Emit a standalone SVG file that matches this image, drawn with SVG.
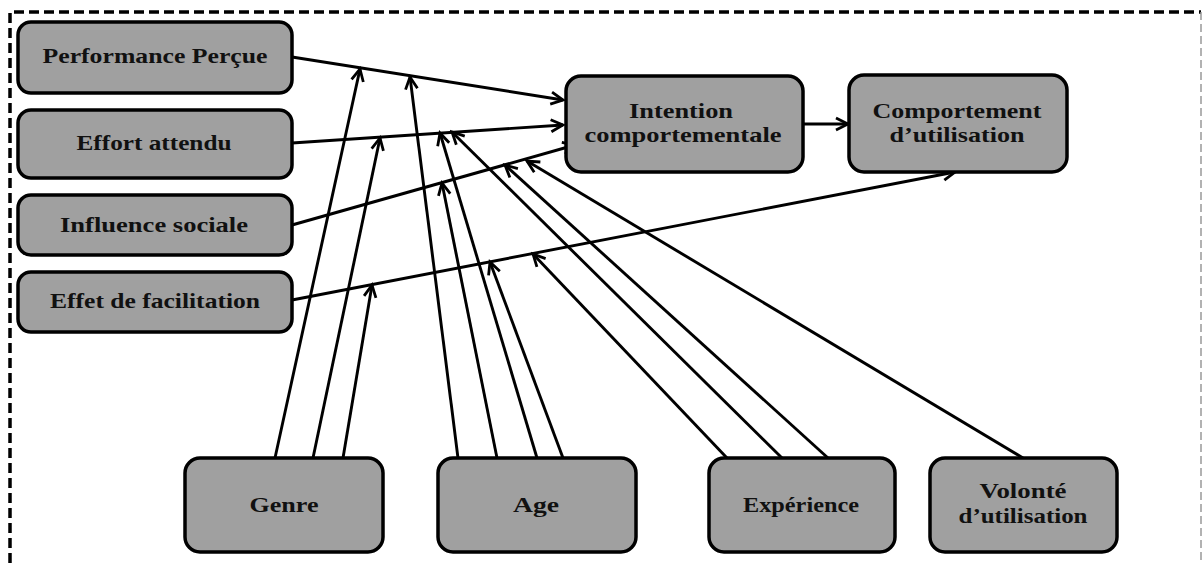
<svg xmlns="http://www.w3.org/2000/svg" width="1203" height="565" viewBox="0 0 1203 565">
<defs>
<marker id="ah" markerUnits="userSpaceOnUse" markerWidth="16" markerHeight="16" refX="13" refY="7" orient="auto" viewBox="0 0 16 14">
<path d="M1,1 L13,7 L1,13" fill="none" stroke="#000" stroke-width="2.8" stroke-linejoin="miter"/>
</marker>
<style>
.box{fill:#a0a0a0;stroke:#000;stroke-width:3.5}
.t{font-family:"Liberation Serif","Times New Roman",serif;font-weight:bold;font-size:22px;fill:#111;text-anchor:middle}
.c line{stroke:#000;stroke-width:2.9;marker-end:url(#ah)}
</style>
</defs>
<rect x="0" y="0" width="1203" height="565" fill="#fff"/>
<g id="border" fill="none">
<path d="M10,563 L10,12 L1201,12" stroke="#000" stroke-width="3.5" stroke-dasharray="10,5"/>
<path d="M1201,12 L1201,563" stroke="#999" stroke-width="1.5" stroke-dasharray="8,4"/>
</g>
<g id="connectors" class="c">
<line x1="292" y1="57" x2="563" y2="100"/>
<line x1="292" y1="143" x2="563" y2="125"/>
<line x1="292" y1="225" x2="575" y2="145"/>
<line x1="292" y1="300" x2="955" y2="172"/>
<line x1="803" y1="124" x2="848" y2="124"/>
<line x1="275" y1="458" x2="360" y2="69"/>
<line x1="313" y1="458" x2="380" y2="138"/>
<line x1="343" y1="458" x2="372" y2="285"/>
<line x1="458" y1="458" x2="410" y2="77"/>
<line x1="497" y1="458" x2="442" y2="183"/>
<line x1="537" y1="458" x2="440" y2="133"/>
<line x1="563" y1="458" x2="490" y2="262"/>
<line x1="727" y1="458" x2="533" y2="254"/>
<line x1="782" y1="458" x2="452" y2="132"/>
<line x1="828" y1="458" x2="505" y2="165"/>
<line x1="1023" y1="458" x2="527" y2="161"/>
</g>
<g id="perf"><rect class="box" x="18" y="22" width="274" height="71" rx="13"/><text class="t" x="155" y="63" textLength="225" lengthAdjust="spacingAndGlyphs">Performance Perçue</text></g>
<g id="effort"><rect class="box" x="18" y="110" width="274" height="68" rx="13"/><text class="t" x="154" y="150" textLength="155" lengthAdjust="spacingAndGlyphs">Effort attendu</text></g>
<g id="influence"><rect class="box" x="18" y="195" width="274" height="60" rx="13"/><text class="t" x="154" y="232" textLength="188" lengthAdjust="spacingAndGlyphs">Influence sociale</text></g>
<g id="effet"><rect class="box" x="18" y="272" width="274" height="60" rx="13"/><text class="t" x="155" y="308" textLength="210" lengthAdjust="spacingAndGlyphs">Effet de facilitation</text></g>
<g id="intention"><rect class="box" x="566" y="76" width="237" height="96" rx="15"/><text class="t" x="681" y="118" textLength="104" lengthAdjust="spacingAndGlyphs">Intention</text><text class="t" x="683" y="142" textLength="197" lengthAdjust="spacingAndGlyphs">comportementale</text></g>
<g id="comportement"><rect class="box" x="849" y="75" width="218" height="97" rx="15"/><text class="t" x="957" y="118" textLength="169" lengthAdjust="spacingAndGlyphs">Comportement</text><text class="t" x="957" y="142" textLength="135" lengthAdjust="spacingAndGlyphs">d’utilisation</text></g>
<g id="genre"><rect class="box" x="185" y="458" width="198" height="94" rx="15"/><text class="t" x="284" y="512" textLength="69" lengthAdjust="spacingAndGlyphs">Genre</text></g>
<g id="age"><rect class="box" x="438" y="458" width="198" height="94" rx="15"/><text class="t" x="536" y="512" textLength="46" lengthAdjust="spacingAndGlyphs">Age</text></g>
<g id="experience"><rect class="box" x="709" y="458" width="186" height="94" rx="15"/><text class="t" x="801" y="512" textLength="116" lengthAdjust="spacingAndGlyphs">Expérience</text></g>
<g id="volonte"><rect class="box" x="930" y="458" width="187" height="94" rx="15"/><text class="t" x="1023" y="498" textLength="87" lengthAdjust="spacingAndGlyphs">Volonté</text><text class="t" x="1023" y="523" textLength="129" lengthAdjust="spacingAndGlyphs">d’utilisation</text></g>
</svg>
